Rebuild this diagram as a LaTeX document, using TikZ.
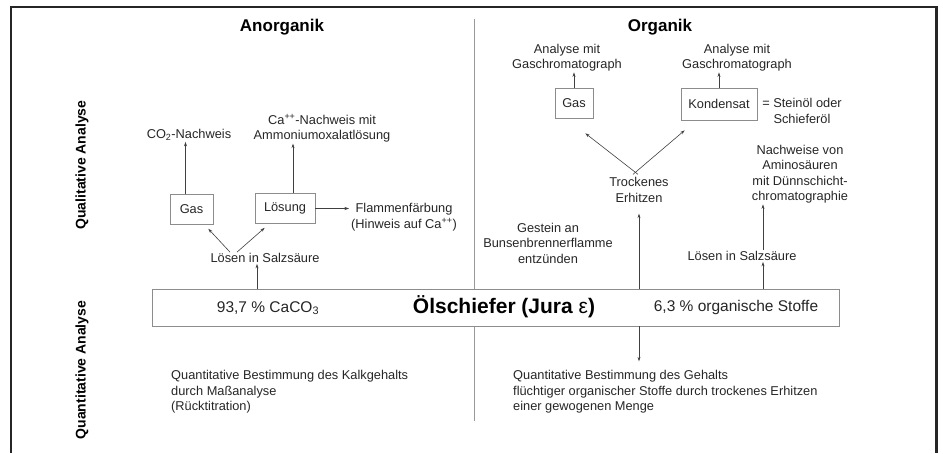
\documentclass[tikz,border=0pt]{standalone}
\usepackage{fontspec}
\setmainfont{Liberation Sans}
\usetikzlibrary{positioning}
\usetikzlibrary{arrows.meta}

\begin{document}
\begin{tikzpicture}[x=1pt,y=-1pt,>={Stealth[length=4.5pt,width=3pt]},
                    txt/.style={font=\fontsize{12.8}{15.5}\selectfont,align=center,text=black!85,inner sep=1pt},
                    kasten/.style={draw=black!45,line width=0.6pt,minimum height=30pt,inner sep=0pt,font=\fontsize{12.8}{15.5}\selectfont,text=black!85},
                    head/.style={font=\fontsize{17}{20}\selectfont\bfseries},
                    seite/.style={font=\fontsize{14}{16}\selectfont\bfseries,rotate=90},
                    pfeil/.style={->,draw=black!75,line width=0.6pt}]
\useasboundingbox (0,0) rectangle (943,453);
\draw[line width=2.2pt,black!85] (11,453) -- (11,7) -- (936.5,7) -- (936.5,453);
\draw[black!40,line width=0.5pt] (474,19) -- (474,421);

\node[head] (anorg) at (282,27) {Anorganik};
\node[head] (org) at (660,27) {Organik};
\node[seite] (quali) at (82,165) {Qualitative Analyse};
\node[seite] (quanti) at (82,370) {Quantitative Analyse};

\node[draw=black!45,fill=white,line width=0.7pt,minimum width=687pt,minimum height=37pt] (schiefer) at (495.5,307.5) {};
\node[font=\fontsize{15.5}{18}\selectfont,text=black!85] (caco3) at (268,308) {93,7 \% CaCO\textsubscript{3}};
\node[font=\fontsize{21}{24}\selectfont\bfseries] (titel) at (504,307) {Ölschiefer (Jura {\mdseries ε})};
\node[font=\fontsize{15.5}{18}\selectfont,text=black!85] (organ) at (736,307) {6,3 \% organische Stoffe};

\node[kasten,minimum width=43pt] (gasL) at (191.5,209.5) {Gas};
\node[kasten,minimum width=60pt] (loesL) at (285,208.5) {Lösung};
\node[txt] (co2) at (189,135) {CO\textsubscript{2}-Nachweis};
\node[txt] (ca) at (322,128.5) {Ca\textsuperscript{++}-Nachweis mit\\Ammoniumoxalatlösung};
\node[txt] (flamme) at (404,217) {Flammenfärbung\\(Hinweis auf Ca\textsuperscript{++})};
\node[txt] (saeureL) at (265,258) {Lösen in Salzsäure};

\node[kasten,minimum width=38pt] (gasR) at (574,103) {Gas};
\node[kasten,minimum width=76pt,minimum height=32pt] (kond) at (719,104) {Kondensat};
\node[txt] (analyseA) at (567,57.5) {Analyse mit\\Gaschromatograph};
\node[txt] (analyseB) at (737,57.5) {Analyse mit\\Gaschromatograph};
\node[txt] (oel) at (802,111) {= Steinöl oder\\Schieferöl};
\node[txt] (trocken) at (639,190) {Trockenes\\Erhitzen};
\node[txt] (gestein) at (548,243) {Gestein an\\Bunsenbrennerflamme\\entzünden};
\node[txt] (amino) at (800,174) {Nachweise von\\Aminosäuren\\mit Dünnschicht-\\chromatographie};
\node[txt] (saeureR) at (742,256) {Lösen in Salzsäure};

\node[txt,align=left,anchor=west] (bestL) at (170,392) {Quantitative Bestimmung des Kalkgehalts\\durch Maßanalyse\\(Rücktitration)};
\node[txt,align=left,anchor=west] (bestR) at (512,392) {Quantitative Bestimmung des Gehalts\\flüchtiger organischer Stoffe durch trockenes Erhitzen\\einer gewogenen Menge};

\draw[pfeil] ([xshift=-6pt]gasL.north) -- ([xshift=-6pt]gasL.north |- co2.south);
\draw[pfeil] ([xshift=8pt]loesL.north) -- ([xshift=8pt]loesL.north |- ca.south);
\draw[pfeil,shorten >=1pt] (loesL.east) -- (loesL.east -| flamme.west);
\draw[pfeil] ([xshift=-35pt]saeureL.north) -- ([xshift=-5pt,yshift=-4pt]gasL.south east);
\draw[pfeil] ([xshift=-28pt]saeureL.north) -- ([xshift=10pt,yshift=-4pt]loesL.south west);
\draw[pfeil] ([xshift=-8pt]saeureL.south |- schiefer.north) -- ([xshift=-8pt]saeureL.south);

\draw[pfeil] (gasR.north) -- (gasR.north |- analyseA.south);
\draw[pfeil] (kond.north) -- (kond.north |- analyseB.south);
\draw[pfeil] ([xshift=-1pt,yshift=2pt]trocken.north) -- ([xshift=-8pt,yshift=-15pt]gasR.south east);
\draw[pfeil] ([xshift=-6pt,yshift=2pt]trocken.north) -- ([xshift=4pt,yshift=-10pt]kond.south west);
\draw[pfeil,shorten >=10pt] (schiefer.north -| trocken.south) -- (trocken.south);
\draw[pfeil] ([xshift=21pt]saeureR.north |- schiefer.north) -- ([xshift=21pt]saeureR.south);
\draw[pfeil] ([xshift=21pt]saeureR.north) -- ([xshift=21pt]saeureR.north |- amino.south);
\draw[pfeil,shorten >=8pt] (schiefer.south -| trocken.south) -- (bestR.north -| trocken.south);
\end{tikzpicture}
\end{document}
